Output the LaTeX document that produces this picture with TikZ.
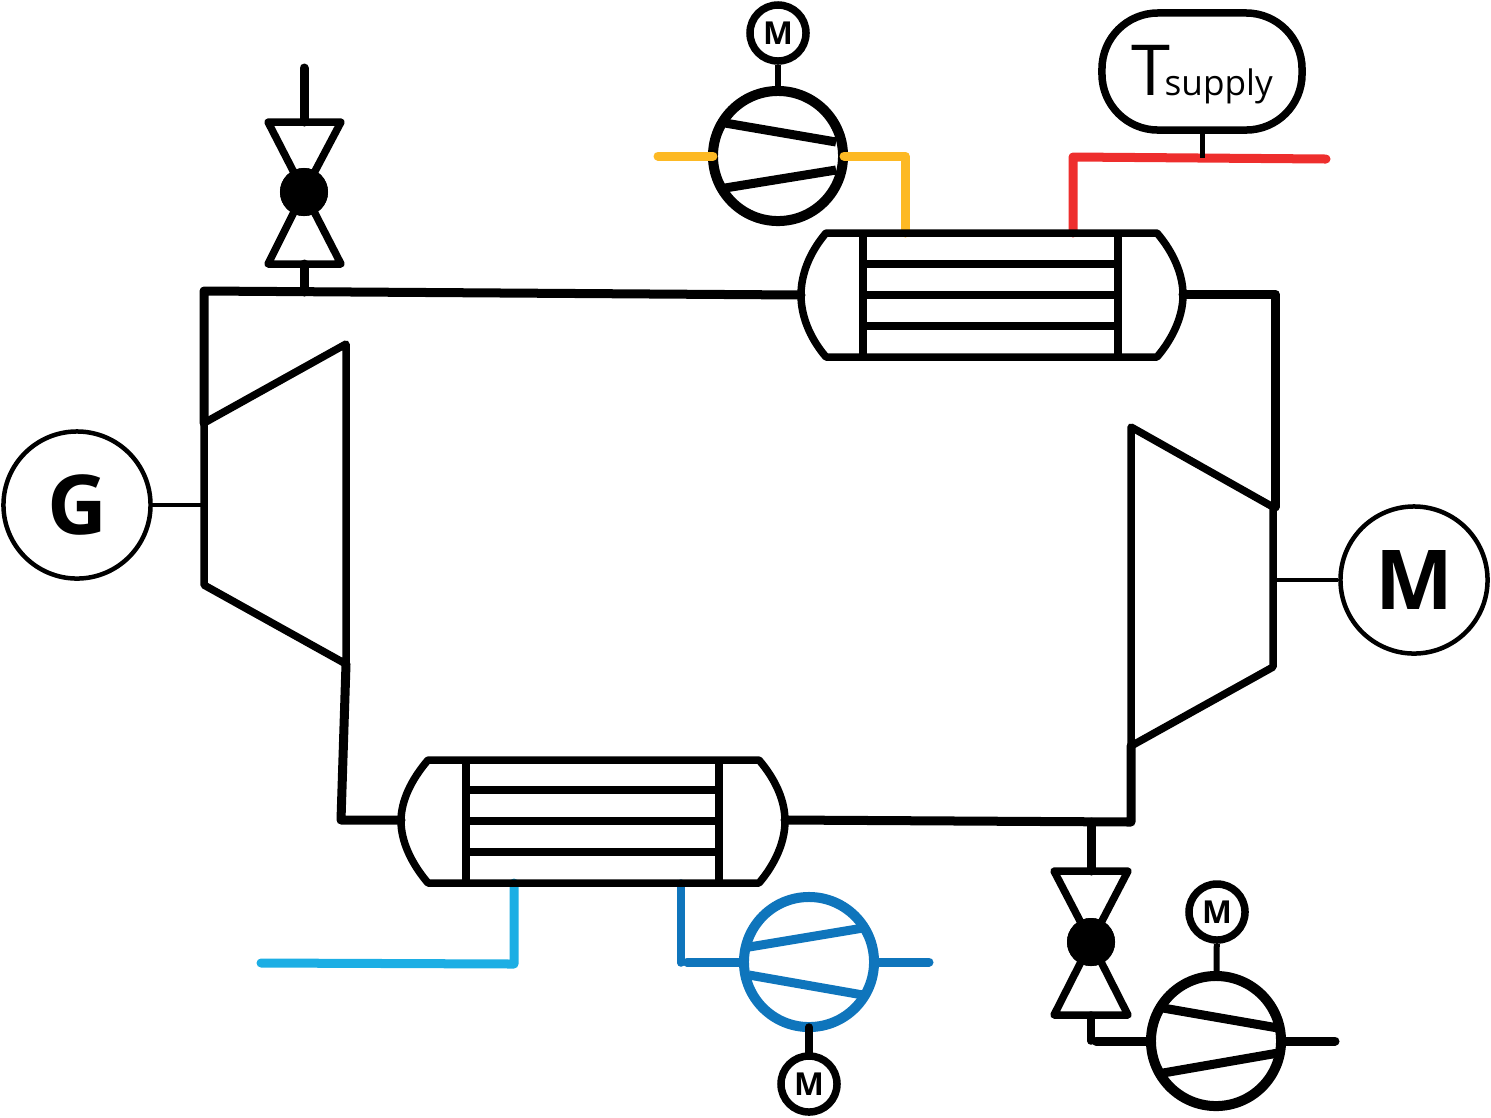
\documentclass[tikz,border=0pt]{standalone}
\usepackage{fontspec}
\setmainfont{Open Sans}
\definecolor{hotyellow}{HTML}{FDB924}
\definecolor{hotred}{HTML}{EE2E2D}
\definecolor{coldlight}{HTML}{1CAEE4}
\definecolor{colddark}{HTML}{0F75BC}
\tikzset{
  pipe/.style={line width=0.09cm,line cap=round,line join=round},
  wall/.style={line width=0.075cm,line join=round},
  shaft/.style={line width=0.045cm},
  ball/.style={circle,fill=black,inner sep=0pt,minimum size=0.48cm},
  motor/.style={circle,draw,fill=white,line width=0.075cm,inner sep=0pt,minimum size=0.56cm,font=\fontsize{9pt}{9pt}\bfseries},
  machine/.style={circle,draw,line width=0.045cm,inner sep=0pt,minimum size=1.47cm,font=\fontsize{23.5pt}{23.5pt}\bfseries},
  pump/.style={circle,draw,line width=0.1cm,inner sep=0pt,minimum size=1.3cm},
}
\begin{document}
\begin{tikzpicture}[x=0.01cm,y=-0.01cm]
  \useasboundingbox (0,0) rectangle (1491,1117);
  % main loop
  \coordinate (c1) at (204,291);
  \coordinate (c2) at (801,295);
  \coordinate (c3) at (1183,294);
  \coordinate (c4) at (1275,294);
  \coordinate (c5) at (1275,507);
  \coordinate (c6) at (1131,746);
  \coordinate (c7) at (1131,822);
  \coordinate (c8) at (785,820);
  \coordinate (c9) at (401,820);
  \coordinate (c10) at (341,820);
  \coordinate (c11) at (346,664);
  \coordinate (c12) at (204,423);
  \coordinate (c13) at (304,292);
  \coordinate (c14) at (1091,822);
  \draw[pipe] (c12) -- (c1) -- (c2);
  \draw[pipe] (c3) -- (c4) -- (c5);
  \draw[pipe] (c6) -- (c7) -- (c8);
  \draw[pipe] (c9) -- (c10) -- (c11);
  % turbine and compressor
  \coordinate (t1) at (204,423);
  \coordinate (t2) at (346,344);
  \coordinate (t3) at (346,664);
  \coordinate (t4) at (204,585);
  \coordinate (t5) at (204,505);
  \draw[wall] (t1) -- (t2) -- (t3) -- (t4) -- cycle;
  \coordinate (k1) at (1131,427);
  \coordinate (k2) at (1273,507);
  \coordinate (k3) at (1273,667);
  \coordinate (k4) at (1131,746);
  \coordinate (k5) at (1273,580);
  \draw[wall] (k1) -- (k2) -- (k3) -- (k4) -- cycle;
  \node[machine] (gen) at (77,505) {G};
  \node[machine] (mot) at (1414,580) {M};
  \draw[shaft] (gen) -- (t5);
  \draw[shaft] (k5) -- (mot);
  % yellow circuit with its pump
  \node[pump] (pa) at (778,156) {};
  \node[motor] (ma) at (778,33) {M};
  \coordinate (y1) at (658,156);
  \coordinate (y2) at (905,156);
  \coordinate (y3) at (905,233);
  \draw[wall,line width=0.06cm] (ma) -- (pa);
  \draw[pipe,hotyellow] (y1) -- ([xshift=0.05cm]pa.west);
  \draw[pipe,hotyellow] ([xshift=-0.04cm]pa.east) -- (y2) -- (y3);
  \draw[wall,line width=0.09cm] (725,123) -- (836,142);
  \draw[wall,line width=0.09cm] (725,188) -- (836,170);
  % red circuit with the sensor
  \node[draw,line width=0.075cm,rounded corners=0.56cm,minimum width=2cm,minimum height=1.17cm,inner sep=0pt] (sens) at (1202,71.5) {};
  \node[anchor=base west,inner sep=0pt,font=\fontsize{20pt}{20pt}\selectfont] (tsym) at (1131,95) {T};
  \node[anchor=base west,inner sep=0pt,font=\fontsize{10pt}{10pt}\selectfont] (tsub) at (1164,95) {supply};
  \coordinate (r1) at (1073,233);
  \coordinate (r2) at (1073,157);
  \coordinate (r3) at (1326,159);
  \coordinate (r4) at (1202,158);
  \draw[pipe,hotred] (r1) -- (r2) -- (r3);
  \draw[line width=0.05cm] (sens) -- (r4);
  % light blue line
  \coordinate (b1) at (514,883);
  \coordinate (b2) at (514,964);
  \coordinate (b3) at (261,963);
  \draw[pipe,coldlight] (b1) -- (b2) -- (b3);
  % dark blue circuit with its pump
  \node[pump,colddark] (pb) at (809,962) {};
  \node[motor] (mb) at (809,1084) {M};
  \coordinate (d1) at (681,883);
  \coordinate (d2) at (681,963);
  \coordinate (d3) at (687,962);
  \coordinate (d4) at (929,962);
  \draw[wall,line cap=round,colddark] (d1) -- (d2);
  \draw[pipe,colddark] (d3) -- (pb.west);
  \draw[pipe,colddark] (pb.east) -- (d4);
  \draw[wall,colddark,line width=0.09cm] (749,947) -- (863,928);
  \draw[wall,colddark,line width=0.09cm] (749,975) -- (863,995);
  \draw[wall,line cap=round] (809,1027) -- (mb);
  % upper heat exchanger
  \draw[wall] (826,233) -- (1157,233) .. controls (1174,253) and (1183,275) .. (1183,295) .. controls (1183,315) and (1174,337) .. (1157,357) -- (826,357) .. controls (809,337) and (801,315) .. (801,295) .. controls (801,275) and (809,253) .. (826,233) -- cycle;
  \draw[wall] (863,233) -- (863,357);
  \draw[wall] (1118,233) -- (1118,357);
  \draw[wall] (863,264) -- (1118,264);
  \draw[wall] (863,295) -- (1118,295);
  \draw[wall] (863,326) -- (1118,326);
  % lower heat exchanger
  \draw[wall] (428,760) -- (759,760) .. controls (776,780) and (785,801) .. (785,821) .. controls (785,841) and (776,863) .. (759,883) -- (428,883) .. controls (411,863) and (401,841) .. (401,821) .. controls (401,801) and (411,780) .. (428,760) -- cycle;
  \draw[wall] (466,760) -- (466,883);
  \draw[wall] (719,760) -- (719,883);
  \draw[wall] (466,790) -- (719,790);
  \draw[wall] (466,821) -- (719,821);
  \draw[wall] (466,852) -- (719,852);
  % upper valve
  \node[ball] (vtop) at (304,192) {};
  \coordinate (v1) at (304,68);
  \coordinate (v2) at (304,122);
  \coordinate (v3) at (304,264);
  \draw[pipe] (v1) -- (v2);
  \draw[pipe] (v3) -- (c13);
  \draw[wall] (268,122) -- (341,122) -- (vtop.center) -- cycle;
  \draw[wall] (268,264) -- (341,264) -- (vtop.center) -- cycle;
  \node[ball] at (vtop) {};
  % lower valve
  \node[ball] (vlow) at (1091,942) {};
  \coordinate (v4) at (1091,871);
  \coordinate (v5) at (1091,1015);
  \coordinate (v6) at (1091,1041);
  \draw[pipe] (c14) -- (v4);
  \draw[wall,line cap=round] (v5) -- (v6);
  \draw[wall] (1054,871) -- (1128,871) -- (vlow.center) -- cycle;
  \draw[wall] (1054,1015) -- (1128,1015) -- (vlow.center) -- cycle;
  \node[ball] at (vlow) {};
  % pump after the lower valve
  \node[pump] (pc) at (1216,1041) {};
  \node[motor] (mc) at (1217,912) {M};
  \coordinate (e1) at (1096,1041);
  \coordinate (e2) at (1335,1041);
  \draw[wall,line width=0.06cm] (mc) -- (pc);
  \draw[pipe] (e1) -- (pc.west);
  \draw[pipe] (pc.east) -- (e2);
  \draw[wall,line width=0.09cm] (1163,1008) -- (1278,1028);
  \draw[wall,line width=0.09cm] (1163,1073) -- (1278,1053);
\end{tikzpicture}
\end{document}
